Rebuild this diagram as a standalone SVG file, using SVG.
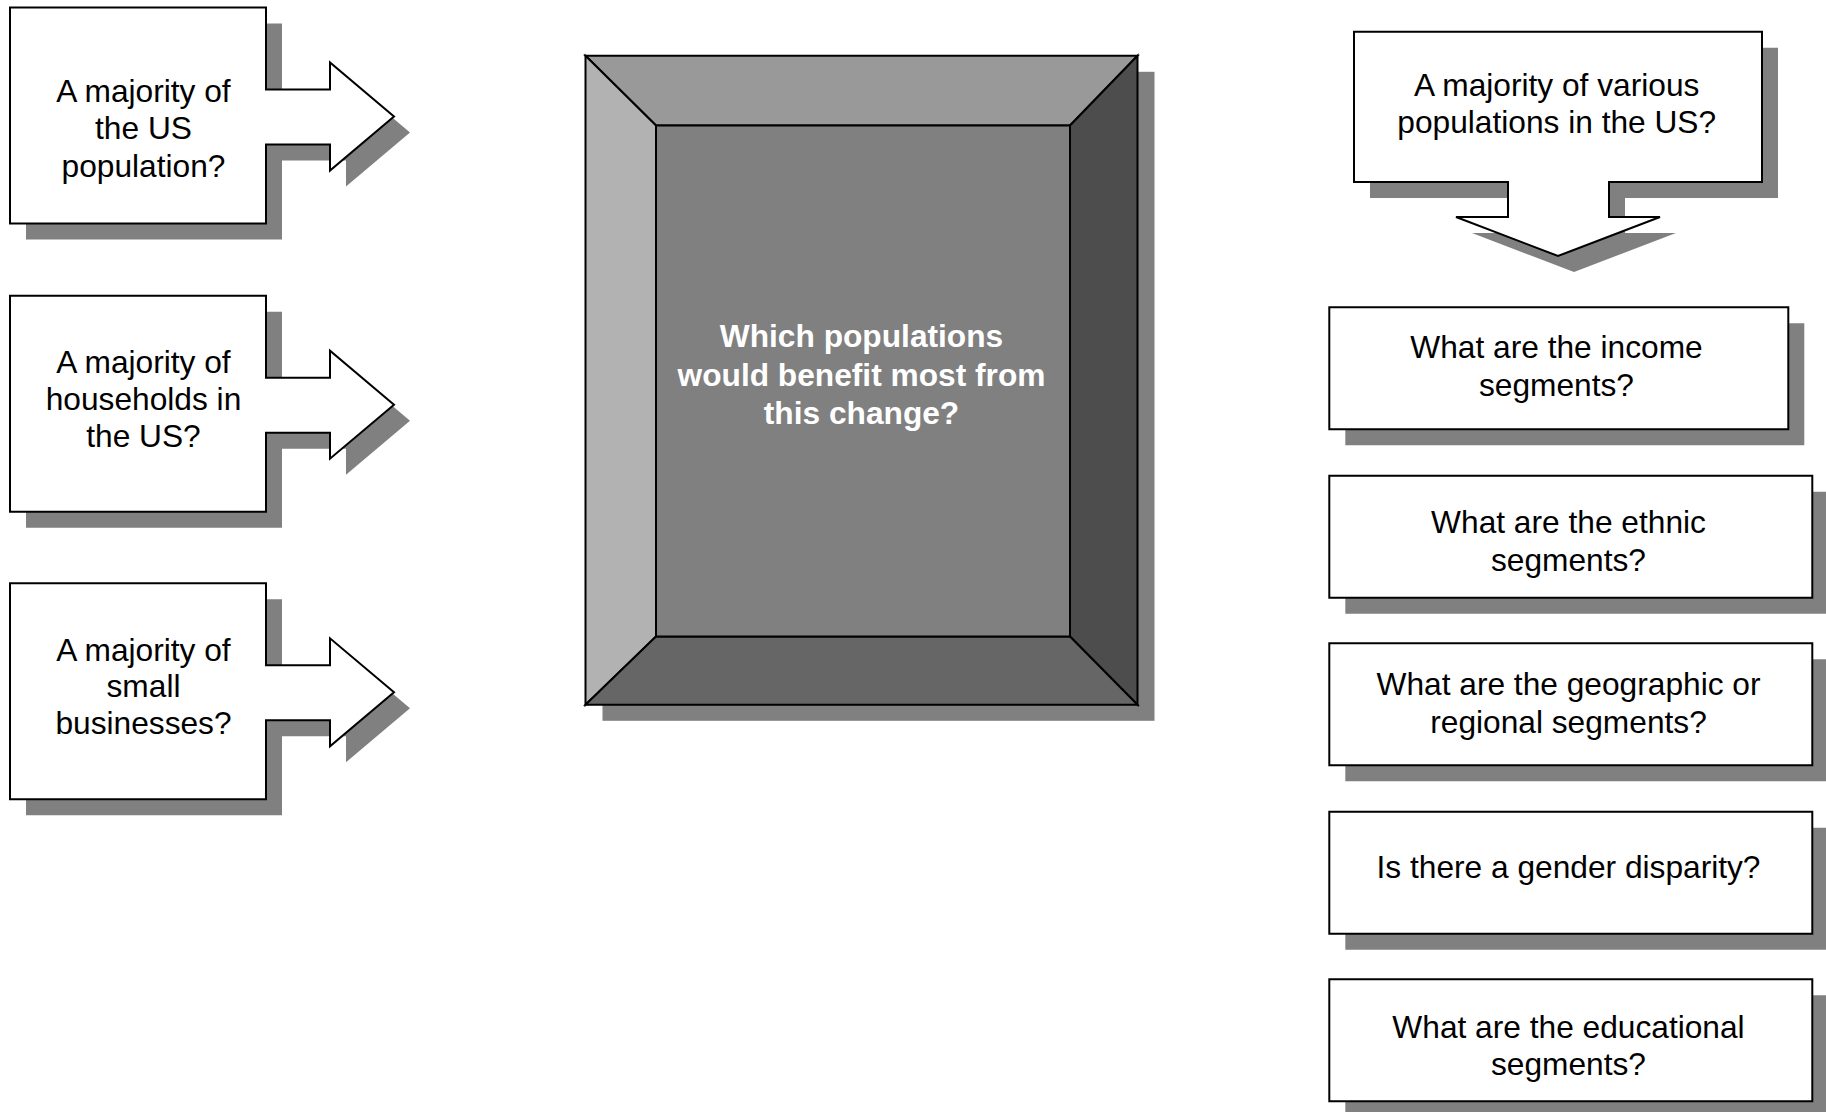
<svg xmlns="http://www.w3.org/2000/svg" width="1826" height="1112" viewBox="0 0 1826 1112">
<defs>
<style>
.shadow{fill:#808080;stroke:none}
.box{fill:#ffffff;stroke:#000000;stroke-width:2;stroke-linejoin:miter}
.t{font-family:"Liberation Sans",Arial,Helvetica,sans-serif;font-size:31.7px;fill:#000000;text-anchor:middle}
.tb{font-family:"Liberation Sans",Arial,Helvetica,sans-serif;font-size:31.7px;font-weight:bold;fill:#ffffff;text-anchor:middle}
.bev{stroke:#000000;stroke-width:2;stroke-linejoin:miter}
</style>
<path id="rarrow" d="M10,0 H266 V82 H330 V55 L394,109 L330,163 V137 H266 V216 H10 Z"/>
<path id="rect122" d="M0,0 H459 V122 H0 Z"/>
<path id="rect122w" d="M0,0 H483 V122 H0 Z"/>
</defs>
<rect x="0" y="0" width="1826" height="1112" fill="#ffffff"/>

<g id="connectors"></g>

<g id="node-us-population">
<use href="#rarrow" class="shadow" transform="translate(16,23.5)"/>
<use href="#rarrow" class="box" transform="translate(0,7.5)"/>
<text class="t" x="143.5" y="101.7">A majority of</text>
<text class="t" x="143.5" y="139">the US</text>
<text class="t" x="143.5" y="176.5">population?</text>
</g>

<g id="node-households">
<use href="#rarrow" class="shadow" transform="translate(16,311.7)"/>
<use href="#rarrow" class="box" transform="translate(0,295.7)"/>
<text class="t" x="143.5" y="372.5">A majority of</text>
<text class="t" x="143.5" y="409.5">households in</text>
<text class="t" x="143.5" y="447">the US?</text>
</g>

<g id="node-small-businesses">
<use href="#rarrow" class="shadow" transform="translate(16,599.3)"/>
<use href="#rarrow" class="box" transform="translate(0,583.3)"/>
<text class="t" x="143.5" y="660.5">A majority of</text>
<text class="t" x="143.5" y="697">small</text>
<text class="t" x="143.5" y="734">businesses?</text>
</g>

<g id="node-center">
<rect class="shadow" x="602.5" y="71.8" width="552" height="649"/>
<polygon class="bev" fill="#999999" points="585.5,55.8 1137.5,55.8 1070,125.5 656,125.5"/>
<polygon class="bev" fill="#b2b2b2" points="585.5,55.8 656,125.5 656,636.5 585.5,704.8"/>
<polygon class="bev" fill="#4d4d4d" points="1137.5,55.8 1137.5,704.8 1070,636.5 1070,125.5"/>
<polygon class="bev" fill="#666666" points="585.5,704.8 656,636.5 1070,636.5 1137.5,704.8"/>
<rect class="bev" fill="#808080" x="656" y="125.5" width="414" height="511"/>
<text class="tb" x="861.5" y="347">Which populations</text>
<text class="tb" x="861.5" y="385.5">would benefit most from</text>
<text class="tb" x="861.5" y="424">this change?</text>
</g>

<g id="node-various-populations">
<path class="shadow" d="M1370,47.7 H1778 V198 H1625 V233 H1676 L1574,272 L1472,233 H1524 V198 H1370 Z"/>
<path class="box" d="M1354,31.7 H1762 V182 H1609 V217 H1660 L1558,256 L1456,217 H1508 V182 H1354 Z"/>
<text class="t" x="1556.7" y="96">A majority of various</text>
<text class="t" x="1556.7" y="133">populations in the US?</text>
</g>

<g id="node-income">
<use href="#rect122" class="shadow" transform="translate(1345.3,323.3)"/>
<use href="#rect122" class="box" transform="translate(1329.3,307.3)"/>
<text class="t" x="1556.5" y="358">What are the income</text>
<text class="t" x="1556.5" y="396">segments?</text>
</g>

<g id="node-ethnic">
<use href="#rect122w" class="shadow" transform="translate(1345.3,491.7)"/>
<use href="#rect122w" class="box" transform="translate(1329.3,475.7)"/>
<text class="t" x="1568.5" y="533">What are the ethnic</text>
<text class="t" x="1568.5" y="570.5">segments?</text>
</g>

<g id="node-geographic">
<use href="#rect122w" class="shadow" transform="translate(1345.3,659.3)"/>
<use href="#rect122w" class="box" transform="translate(1329.3,643.3)"/>
<text class="t" x="1568.5" y="695">What are the geographic or</text>
<text class="t" x="1568.5" y="733">regional segments?</text>
</g>

<g id="node-gender">
<use href="#rect122w" class="shadow" transform="translate(1345.3,827.7)"/>
<use href="#rect122w" class="box" transform="translate(1329.3,811.7)"/>
<text class="t" x="1568.5" y="878">Is there a gender disparity?</text>
</g>

<g id="node-educational">
<use href="#rect122w" class="shadow" transform="translate(1345.3,995.3)"/>
<use href="#rect122w" class="box" transform="translate(1329.3,979.3)"/>
<text class="t" x="1568.5" y="1037.5">What are the educational</text>
<text class="t" x="1568.5" y="1075">segments?</text>
</g>
</svg>
